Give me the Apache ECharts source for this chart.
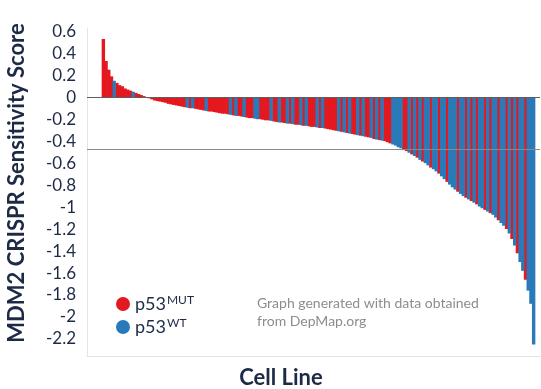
<!DOCTYPE html>
<html>
<head>
<meta charset="utf-8">
<script src="https://cdn.jsdelivr.net/npm/echarts@6/dist/echarts.min.js"></script>
<style>
  html, body { margin: 0; padding: 0; background: #fff; }
  #chart { width: 541px; height: 389px; }
</style>
</head>
<body>
<div id="chart"></div>
<script>
  // MDM2 CRISPR score per cell line, sorted high -> low
  const cellScores = [
    0.53, 0.33, 0.25, 0.19, 0.15, 0.13, 0.11, 0.10, 0.08, 0.07,
    0.06, 0.05, 0.04, 0.03, 0.02, 0.01, 0.00, -0.01, -0.02, -0.03,
    -0.035, -0.04, -0.045, -0.05, -0.06, -0.065, -0.07, -0.075, -0.08, -0.085,
    -0.09, -0.095, -0.10, -0.10, -0.105, -0.11, -0.115, -0.12, -0.125, -0.13,
    -0.13, -0.135, -0.14, -0.145, -0.15, -0.15, -0.155, -0.16, -0.165, -0.17,
    -0.17, -0.175, -0.18, -0.185, -0.19, -0.19, -0.195, -0.20, -0.20, -0.205,
    -0.21, -0.21, -0.215, -0.22, -0.225, -0.23, -0.23, -0.235, -0.24, -0.24,
    -0.245, -0.25, -0.25, -0.255, -0.26, -0.26, -0.265, -0.27, -0.27, -0.275,
    -0.28, -0.28, -0.285, -0.29, -0.295, -0.30, -0.305, -0.31, -0.315, -0.32,
    -0.325, -0.33, -0.335, -0.34, -0.345, -0.35, -0.355, -0.36, -0.365, -0.37,
    -0.38, -0.385, -0.39, -0.395, -0.40, -0.41, -0.42, -0.43, -0.44, -0.455,
    -0.465, -0.475, -0.49, -0.505, -0.52, -0.535, -0.55, -0.57, -0.585, -0.60,
    -0.62, -0.64, -0.655, -0.675, -0.695, -0.72, -0.745, -0.77, -0.795, -0.82,
    -0.84, -0.86, -0.88, -0.90, -0.915, -0.93, -0.945, -0.96, -0.975, -0.995,
    -1.01, -1.025, -1.04, -1.055, -1.07, -1.095, -1.12, -1.145, -1.17, -1.20,
    -1.24, -1.29, -1.35, -1.42, -1.50, -1.58, -1.66, -1.76, -1.88, -2.25
  ];

  // p53 status per cell line: M = mutant, W = wild type (groups of 10)
  const p53Status = (
    'MMMMWMMMMM MWMMMMMMMM MMMMMMMMMM MWMWMMMMWM ' +
    'MMMMMMMWMW MMWMMMWWMM MMWMMWMMWM WMMWMWMMMW ' +
    'MWMMMMMWMW MWMMWMWMMW MWMWMMMWWW WMMWMWMWMW ' +
    'WMWWMWWMWW WMWWMWMWMW WMWMWWMWWM WMWMWWMWWW'
  ).replace(/ /g, '').split('');

  const yTicks = [0.6, 0.4, 0.2, 0, -0.2, -0.4, -0.6, -0.8, -1, -1.2, -1.4, -1.6, -1.8, -2, -2.2];
  const thresholds = [0, -0.47];
  const seriesNames = ['p53 MUT', 'p53 WT'];

  const cellIds = cellScores.map((_, i) => 'cell' + (i + 1));
  const pick = (s) => cellScores.map((v, i) => [i, v]).filter((d) => p53Status[d[0]] === s);
  const mutData = pick('M');
  const wtData = pick('W');

  const navy = '#1d2a46';
  const red = '#e3191f';
  const blue = '#2a79b8';
  const yMin = -2.355;
  const yMax = 0.63;

  // bar drawn from 0 to the value; a hair wider than its slot so neighbours don't leave seams
  const renderBar = (params, api) => {
    const idx = api.value(0);
    const top = api.coord([idx, api.value(1)]);
    const base = api.coord([idx, 0]);
    const w = api.size([1, 0])[0] + 0.7;
    return {
      type: 'rect',
      shape: {
        x: top[0] - w / 2,
        y: Math.min(top[1], base[1]),
        width: w,
        height: Math.abs(base[1] - top[1]),
      },
      style: { fill: api.visual('color') },
    };
  };

  const chart = echarts.init(document.getElementById('chart'));

  chart.setOption({
    animation: false,
    backgroundColor: '#ffffff',
    textStyle: { fontFamily: 'Lato' },
    grid: [
      // frame, labels and reference lines
      { left: 87, right: 1, top: 28, bottom: 33 },
      // bars (inset a little from the frame on the left)
      { left: 102, right: 6, top: 28, bottom: 33 },
    ],
    xAxis: [
      {
        gridIndex: 0,
        type: 'value',
        min: 0,
        max: 1,
        axisLine: { show: true, onZero: false, lineStyle: { color: '#e4e4e4' } },
        axisTick: { show: false },
        axisLabel: { show: false },
        splitLine: { show: false },
      },
      {
        gridIndex: 1,
        type: 'category',
        data: cellIds,
        show: false,
      },
    ],
    yAxis: [
      {
        gridIndex: 0,
        type: 'value',
        min: yMin,
        max: yMax,
        axisLine: { show: true, onZero: false, lineStyle: { color: '#e4e4e4' } },
        axisTick: { show: false },
        splitLine: { show: false },
        axisLabel: {
          customValues: yTicks,
          formatter: (v) => String(Math.round(v * 10) / 10),
          fontSize: 17,
          color: navy,
          margin: 11,
        },
      },
      {
        gridIndex: 1,
        type: 'value',
        min: yMin,
        max: yMax,
        show: false,
      },
    ],
    legend: {
      data: seriesNames,
      orient: 'vertical',
      left: 111,
      top: 289,
      itemGap: 4,
      icon: 'circle',
      itemWidth: 14,
      itemHeight: 14,
      formatter: (name) => (name === 'p53 MUT' ? '{b|p53}{s|MUT}' : '{b|p53}{s|WT}'),
      textStyle: {
        rich: {
          b: { fontSize: 18, color: navy, fontFamily: 'Lato' },
          s: { fontSize: 12, color: navy, fontFamily: 'Lato', padding: [0, 0, 8, 1] },
        },
      },
    },
    graphic: [
      {
        type: 'text',
        x: 17,
        y: 183,
        rotation: Math.PI / 2,
        style: {
          text: 'MDM2 CRISPR Sensitivity Score',
          fontSize: 22,
          fontWeight: 'bold',
          fontFamily: 'Lato',
          fill: navy,
          align: 'center',
          verticalAlign: 'middle',
        },
      },
      {
        type: 'text',
        x: 281,
        y: 378,
        style: {
          text: 'Cell Line',
          fontSize: 22,
          fontWeight: 'bold',
          fontFamily: 'Lato',
          fill: navy,
          align: 'center',
          verticalAlign: 'middle',
        },
      },
      {
        type: 'text',
        x: 257,
        y: 294,
        style: {
          text: 'Graph generated with data obtained\nfrom DepMap.org',
          fontSize: 14,
          lineHeight: 18,
          fontFamily: 'Lato',
          fill: '#8d8d8d',
        },
      },
    ],
    series: [
      {
        name: seriesNames[0],
        type: 'custom',
        xAxisIndex: 1,
        yAxisIndex: 1,
        data: mutData,
        encode: { x: 0, y: 1 },
        renderItem: renderBar,
        itemStyle: { color: red },
      },
      {
        name: seriesNames[1],
        type: 'custom',
        xAxisIndex: 1,
        yAxisIndex: 1,
        data: wtData,
        encode: { x: 0, y: 1 },
        renderItem: renderBar,
        itemStyle: { color: blue },
      },
      {
        // holder for the horizontal reference lines across the whole frame
        type: 'line',
        xAxisIndex: 0,
        yAxisIndex: 0,
        data: [],
        z: 5,
        markLine: {
          silent: true,
          symbol: 'none',
          label: { show: false },
          data: thresholds.map((t, k) => ({
            yAxis: t,
            lineStyle: { color: k === 0 ? '#5e5e5e' : '#8a8a8a', width: 1.2, type: 'solid' },
          })),
        },
      },
    ],
  });
</script>
</body>
</html>
